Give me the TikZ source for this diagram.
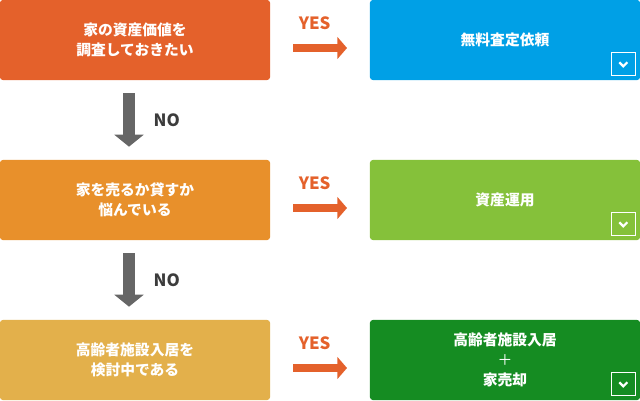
\documentclass[tikz,border=0pt]{standalone}
\usepackage{fontspec}
\setmainfont{Noto Sans CJK JP}
\usetikzlibrary{arrows.meta,positioning,calc}
\definecolor{FlowRed}{RGB}{228,97,43}
\definecolor{FlowOrange}{RGB}{232,144,43}
\definecolor{FlowYellow}{RGB}{227,176,75}
\definecolor{FlowBlue}{RGB}{0,160,230}
\definecolor{FlowLime}{RGB}{133,193,58}
\definecolor{FlowGreen}{RGB}{21,140,34}
\definecolor{FlowGray}{RGB}{102,102,102}
\definecolor{FlowText}{RGB}{60,60,60}
\tikzset{
  pergunta/.style={rounded corners=2pt, align=center, text=white,
                minimum width=6.75cm, minimum height=2cm, inner sep=0pt,
                font=\fontsize{10.5}{14}\selectfont\bfseries},
  resposta/.style={pergunta},
  setasim/.style={-{Triangle[length=2.4mm, width=5.4mm]}, line width=2.2mm, FlowRed},
  setanao/.style={-{Triangle[length=3mm, width=7.2mm]}, line width=3mm, FlowGray},
  rotulosim/.style={font=\fontsize{12}{14}\selectfont\bfseries, text=FlowRed},
  rotulonao/.style={font=\fontsize{12}{14}\selectfont\bfseries, text=FlowText},
  icone/.style={draw=white, line width=0.6pt, minimum size=0.58cm, inner sep=0pt},
}

\begin{document}
\begin{tikzpicture}[x=0.025cm, y=-0.025cm]
  \useasboundingbox (0,0) rectangle (640,401);

  % --- Perguntas (coluna esquerda) ------------------------------------------
  \node[pergunta, fill=FlowRed]    (q1) at (135,40)  {家の資産価値を\\調査しておきたい};
  \node[pergunta, fill=FlowOrange] (q2) at (135,200) {家を売るか貸すか\\悩んでいる};
  \node[pergunta, fill=FlowYellow] (q3) at (135,360) {高齢者施設入居を\\検討中である};

  % --- Respostas (coluna direita) --------------------------------------------
  \node[resposta, fill=FlowBlue]  (a1) at (505,40)  {無料査定依頼};
  \node[resposta, fill=FlowLime]  (a2) at (505,200) {資産運用};
  \node[resposta, fill=FlowGreen] (a3) at (505,360) {高齢者施設入居\\{\mdseries ＋}\\家売却};

  % --- Icones (seta para baixo) ----------------------------------------------
  \foreach \r in {a1,a2,a3}{
    \node[icone] (ic\r) at ($(\r.south east)+(-17,-16)$) {};
    \draw[white, line width=1.6pt] ($(ic\r.center)+(-4,-2)$) -- ($(ic\r.center)+(0,2)$) -- ($(ic\r.center)+(4,-2)$);
  }

  % --- Setas YES ---------------------------------------------------------------
  \coordinate (s1) at (293,48);  \coordinate (e1) at (347,48);
  \coordinate (s2) at (293,208); \coordinate (e2) at (347,208);
  \coordinate (s3) at (293,368); \coordinate (e3) at (347,368);
  \draw[setasim] (s1) -- node[rotulosim, pos=0.4, yshift=0.63cm]{YES} (e1);
  \draw[setasim] (s2) -- node[rotulosim, pos=0.4, yshift=0.63cm]{YES} (e2);
  \draw[setasim] (s3) -- node[rotulosim, pos=0.4, yshift=0.63cm]{YES} (e3);

  % --- Setas NO ----------------------------------------------------------------
  \coordinate (n1) at ($(q1.south)+(-6,13)$);  \coordinate (m1) at ($(q2.north)+(-6,-13)$);
  \coordinate (n2) at ($(q2.south)+(-6,13)$);  \coordinate (m2) at ($(q3.north)+(-6,-13)$);
  \draw[setanao] (n1) -- node[rotulonao, right=0.35cm]{NO} (m1);
  \draw[setanao] (n2) -- node[rotulonao, right=0.35cm]{NO} (m2);

\end{tikzpicture}
\end{document}
